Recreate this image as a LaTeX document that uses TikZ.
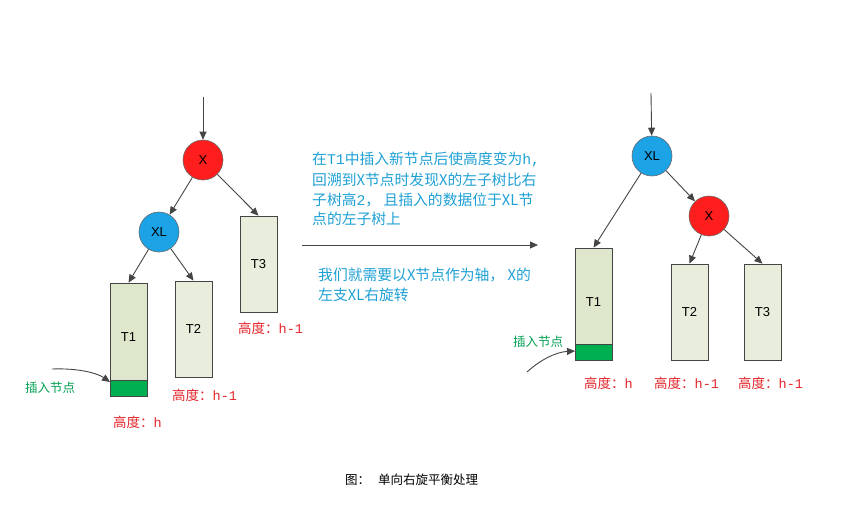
\documentclass[tikz,border=0pt]{standalone}
\usepackage{fontspec}
\setmainfont{Noto Sans CJK SC}
\newfontfamily\latinf{Liberation Sans}
\newfontfamily\monof{Liberation Mono}
\usetikzlibrary{arrows.meta,calc}
\definecolor{linegray}{HTML}{454545}
\definecolor{nodered}{HTML}{FF1E1E}
\definecolor{nodeblue}{HTML}{1BA3E6}
\definecolor{treefillA}{HTML}{DEE6CB}
\definecolor{treefillB}{HTML}{E9EEDC}
\definecolor{insgreen}{HTML}{00B050}
\definecolor{txtblue}{HTML}{1EA0D4}
\definecolor{txtred}{HTML}{E3262B}
\definecolor{txtgreen}{HTML}{00A050}
\tikzset{
  arr/.style={draw=linegray, line width=0.9pt, -{Triangle[length=8pt,width=7pt]}},
  circ/.style={circle, draw=linegray!80, line width=0.6pt, minimum size=40pt, inner sep=0pt,
    font=\latinf\fontsize{13}{13}\selectfont},
  subtree/.style={rectangle, draw=linegray, line width=0.7pt, inner sep=0pt,
    minimum width=37pt, font=\latinf\fontsize{13}{13}\selectfont},
  newnode/.style={rectangle, draw=linegray, line width=0.7pt, fill=insgreen, inner sep=0pt,
    minimum width=37pt, minimum height=16pt},
  hlabel/.style={anchor=west, inner sep=0pt, text=txtred, font=\fontsize{13.5}{14}\selectfont},
  inslabel/.style={anchor=west, inner sep=0pt, text=txtgreen, font=\fontsize{12.5}{13}\selectfont},
  para/.style={anchor=west, inner sep=0pt, text=txtblue, font=\fontsize{14.8}{15}\selectfont},
}
\begin{document}
\begin{tikzpicture}[x=1pt,y=-1pt]
\useasboundingbox (0,0) rectangle (841,507);

% ---------- left tree ----------
\coordinate (Ltop) at (203,97);
\node[circ, fill=nodered] (LX) at (203,160) {X};
\node[circ, fill=nodeblue] (LXL) at (159,232) {XL};
\node[subtree, fill=treefillB, minimum height=96pt] (LT3) at (258.5,264) {T3};
\node[subtree, fill=treefillA, minimum height=113pt] (LT1) at (128.5,339.5) {};
\node[font=\latinf\fontsize{13}{13}\selectfont, inner sep=0pt] (LT1t) at (128.5,337) {T1};
\node[newnode, anchor=south] (LG) at (LT1.south) {};
\node[subtree, fill=treefillB, minimum height=96pt] (LT2) at (193.5,329) {T2};

\draw[arr] (Ltop) -- (LX);
\draw[arr] (LX) -- (LXL);
\draw[arr] (LX) -- (LT3.north);
\draw[arr] (LXL) -- (LT1.north);
\draw[arr] (LXL) -- (LT2.north);

\node[hlabel] (LH3) at (238,328) {高度：{\monof h-1}};
\node[hlabel] (LH2) at (172,395) {高度：{\monof h-1}};
\node[hlabel] (LH1) at (113,422) {高度：{\monof h}};

\node[inslabel] (Lins) at (25,388) {插入节点};
\coordinate (Lstart) at (52,369);
\coordinate (Lend) at (110,382);
\draw[arr] (Lstart) .. controls (78,368) and (97,373) .. (Lend);

% ---------- middle text ----------
\node[para] (p1) at (312,160) {在{\monof T1}中插入新节点后使高度变为{\monof h,}};
\node[para] (p2) at (312,180) {回溯到X节点时发现X的左子树比右};
\node[para] (p3) at (312,200) {子树高{\monof 2}，\ 且插入的数据位于XL节};
\node[para] (p4) at (312,219) {点的左子树上};
\coordinate (Mstart) at (302,245);
\coordinate (Mend) at (538,245);
\draw[arr] (Mstart) -- (Mend);
\node[para] (q1) at (318,275) {我们就需要以X节点作为轴，\ X的};
\node[para] (q2) at (318,295) {左支XL右旋转};

% ---------- right tree ----------
\coordinate (Rtop) at (651,93);
\node[circ, fill=nodeblue] (RXL) at (652,156) {XL};
\node[circ, fill=nodered] (RX) at (709,216) {X};
\node[subtree, fill=treefillA, minimum height=112pt] (RT1) at (593.5,304) {};
\node[font=\latinf\fontsize{13}{13}\selectfont, inner sep=0pt] (RT1t) at (593.5,302) {T1};
\node[newnode, anchor=south] (RG) at (RT1.south) {};
\node[subtree, fill=treefillB, minimum height=96pt] (RT2) at (689.5,312) {T2};
\node[subtree, fill=treefillB, minimum height=96pt] (RT3) at (762.5,312) {T3};

\draw[arr] (Rtop) -- (RXL);
\draw[arr] (RXL) -- (RX);
\draw[arr] (RXL) -- (RT1.north);
\draw[arr] (RX) -- (RT2.north);
\draw[arr] (RX) -- (RT3.north);

\node[hlabel] (RH1) at (584,383) {高度：{\monof h}};
\node[hlabel] (RH2) at (654,383) {高度：{\monof h-1}};
\node[hlabel] (RH3) at (738,383) {高度：{\monof h-1}};

\node[inslabel] (Rins) at (513,342) {插入节点};
\coordinate (Rstart) at (527,372);
\coordinate (Rend) at (575,351);
\draw[arr] (Rstart) .. controls (540,360) and (556,352) .. (Rend);

% ---------- caption ----------
\node[anchor=west, inner sep=0pt, font=\fontsize{12.5}{13}\selectfont] (cap) at (345,480) {图：\hspace{8pt}单向右旋平衡处理};
\end{tikzpicture}
\end{document}
